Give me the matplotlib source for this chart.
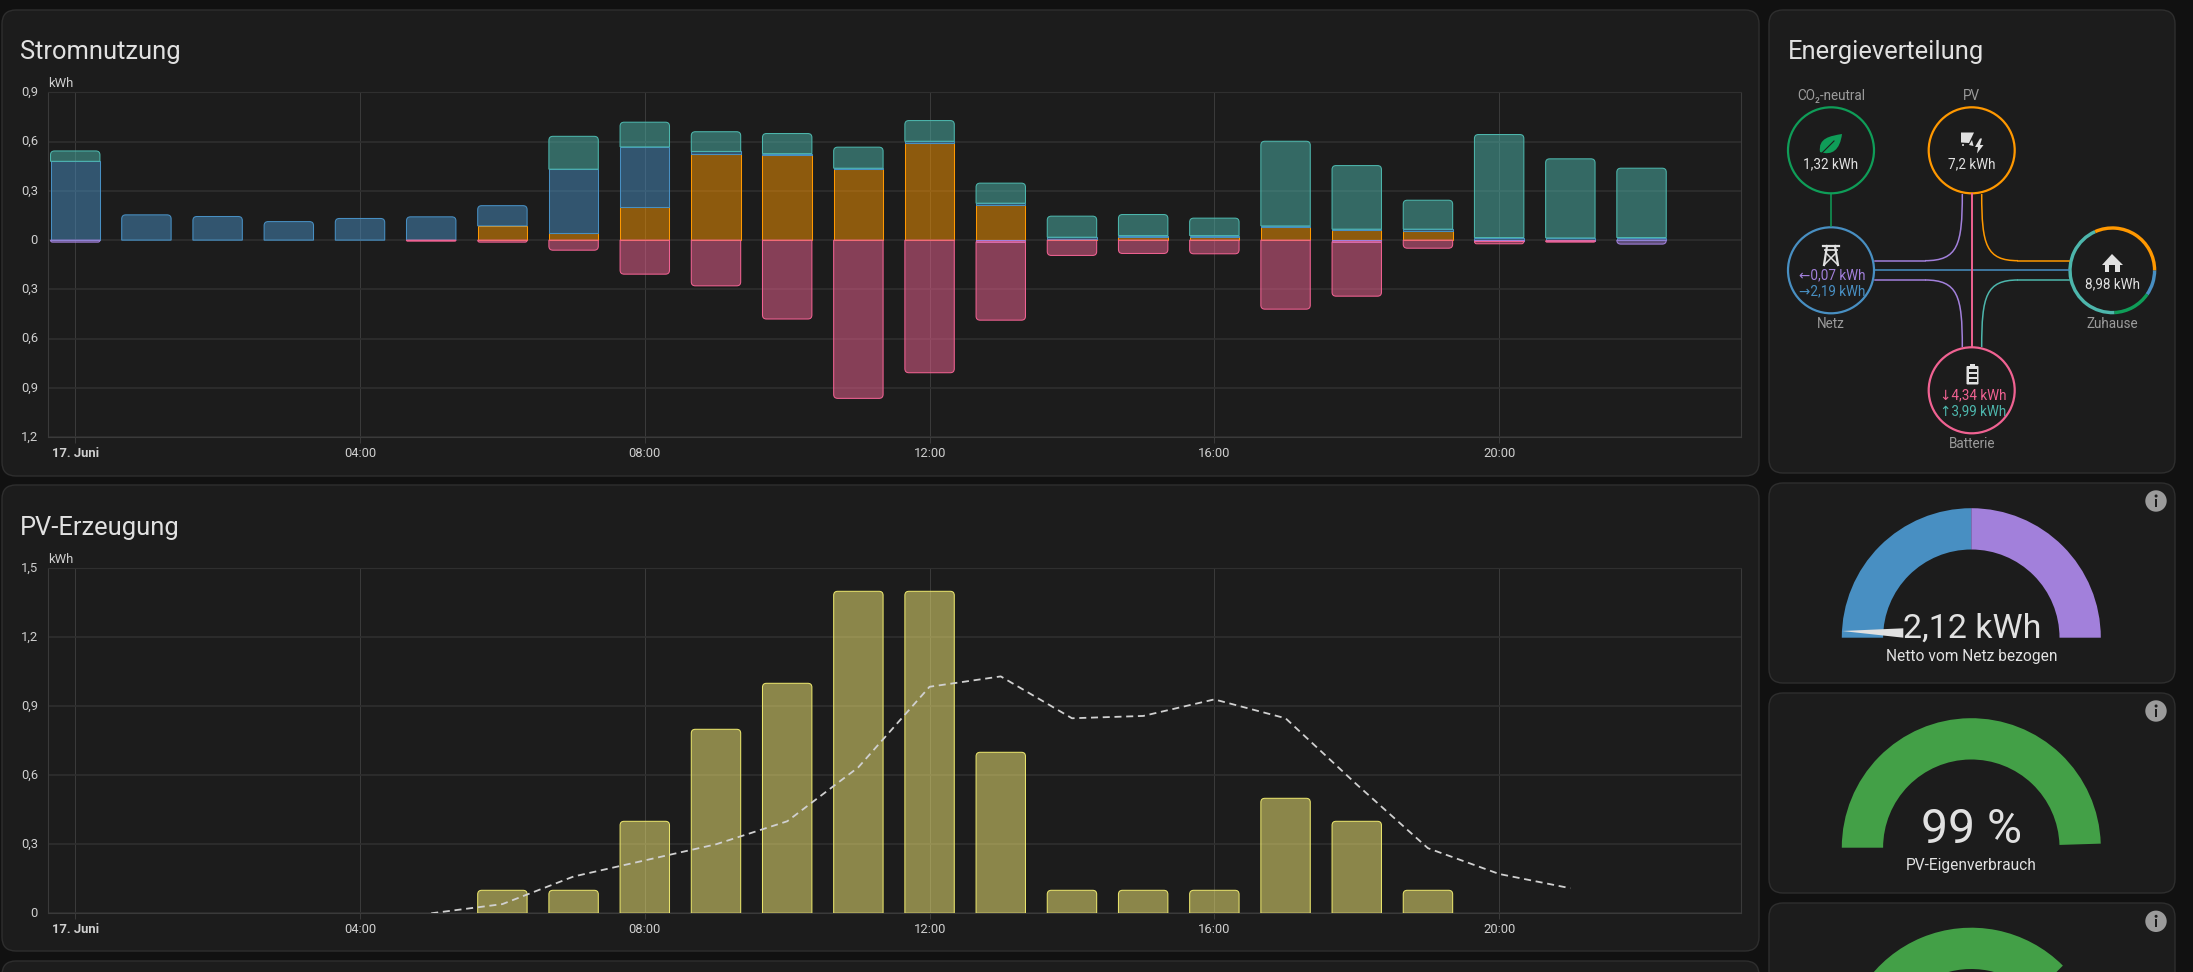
import numpy as np
import matplotlib
matplotlib.use("Agg")
import matplotlib.pyplot as plt
from matplotlib.colors import to_rgba
from matplotlib.patches import Circle, FancyBboxPatch, PathPatch, Polygon, Rectangle, Wedge
from matplotlib.path import Path
from matplotlib.transforms import ScaledTranslation

plt.rcParams['font.family'] = ['Roboto', 'DejaVu Sans']

# data
hours = list(range(23))
solar = [0, 0, 0, 0, 0, 0, 0.087, 0.043, 0.199, 0.523, 0.519, 0.434, 0.594, 0.215, 0.005, 0.018, 0.018, 0.079, 0.059, 0.057, 0, 0, 0]
grid_in = [0.48, 0.154, 0.144, 0.113, 0.132, 0.142, 0.123, 0.389, 0.369, 0.017, 0.008, 0.004, 0.008, 0.01, 0.013, 0.01, 0.01, 0.008, 0.008, 0.01, 0.016, 0.014, 0.016]
battery_out = [0.063, 0, 0, 0, 0, 0, 0, 0.2, 0.15, 0.12, 0.122, 0.128, 0.126, 0.122, 0.128, 0.128, 0.106, 0.515, 0.387, 0.176, 0.627, 0.481, 0.422]
grid_out = [0.012, 0, 0, 0, 0, 0, 0, 0, 0, 0, 0, 0, 0, 0.01, 0, 0, 0, 0, 0.01, 0, 0.008, 0.004, 0.024]
battery_in = [0, 0, 0, 0, 0, 0.006, 0.012, 0.061, 0.207, 0.278, 0.48, 0.963, 0.807, 0.477, 0.093, 0.081, 0.083, 0.42, 0.331, 0.049, 0.014, 0.008, 0]
usage_ticks = [0.9, 0.6, 0.3, 0, -0.3, -0.6, -0.9, -1.2]
usage_labels = ['0,9', '0,6', '0,3', '0', '0,3', '0,6', '0,9', '1,2']

pv_hours = [6, 7, 8, 9, 10, 11, 12, 13, 14, 15, 16, 17, 18, 19]
pv_values = [0.1, 0.1, 0.4, 0.8, 1.0, 1.4, 1.4, 0.7, 0.1, 0.1, 0.1, 0.5, 0.4, 0.1]
forecast_hours = [5, 6, 7, 8, 9, 10, 11, 12, 13, 14, 15, 16, 17, 18, 19, 20, 21]
forecast_values = [0.0, 0.04, 0.16, 0.23, 0.30, 0.40, 0.635, 0.985, 1.03, 0.848, 0.858, 0.93, 0.848, 0.56, 0.283, 0.171, 0.109]
pv_ticks = [0, 0.3, 0.6, 0.9, 1.2, 1.5]
pv_labels = ['0', '0,3', '0,6', '0,9', '1,2', '1,5']

time_ticks = [0, 4, 8, 12, 16, 20]
time_labels = ['17. Juni', '04:00', '08:00', '12:00', '16:00', '20:00']

home_values = [0.87, 1.32, 3.99, 2.86]  # grid, low carbon, battery, solar
self_use_pct = 99
third_gauge_pct = 75

BLUE = '#488fc2'
TEAL = '#4db6ac'
ORANGE = '#ff9800'
PINK = '#f06292'
PURPLE = '#a280db'
GREEN = '#0f9d58'
YELLOW = '#e9e46c'
YELLOW_FILL = '#fbf078'
GAUGE_GREEN = '#43a047'
CARD = '#1c1c1c'
TXT = '#e1e1e1'
GREY = '#9b9b9b'

W, H = 2193, 972
fig = plt.figure(figsize=(W / 100, H / 100), dpi=100, facecolor='#111111')
bg = fig.add_axes([0, 0, 1, 1])
bg.set_xlim(0, W)
bg.set_ylim(H, 0)
bg.axis('off')


def px(v):
    return v * 0.72


def card(x0, y0, x1, y1):
    bg.add_patch(FancyBboxPatch((x0, y0), x1 - x0, y1 - y0, boxstyle='round,pad=0,rounding_size=14',
                                fc=CARD, ec='#2e2e2e', lw=1))


def label(x, y, s, size, color=TXT, ha='center', **kw):
    bg.text(x, y, s, fontsize=px(size), color=color, ha=ha, va='center', **kw)


card(2, 10, 1759, 476)
card(2, 485, 1759, 951)
card(2, 961, 1759, 1100)
card(1769, 10, 2175, 473)
card(1769, 483, 2175, 683)
card(1769, 693, 2175, 893)
card(1769, 903, 2175, 1100)

label(20, 52, 'Stromnutzung', 25.5, ha='left')
label(20, 528, 'PV-Erzeugung', 25.5, ha='left')
label(1788, 52, 'Energieverteilung', 25.5, ha='left')


def make_axes(left, top, right, bottom, ymin, ymax, ticks, labels):
    ax = fig.add_axes([left / W, 1 - bottom / H, (right - left) / W, (bottom - top) / H])
    ax.patch.set_alpha(0)
    ax.set_xlim(-0.388, 23.39)
    ax.set_ylim(ymin, ymax)
    ax.set_yticks(ticks, labels)
    ax.set_xticks(time_ticks, time_labels)
    ax.get_xticklabels()[0].set_fontweight('bold')
    ax.tick_params(axis='y', length=0, pad=7, labelsize=px(13), labelcolor='#cfcfcf')
    ax.tick_params(axis='x', length=4, width=0.7, color='#3a3a3a', pad=3, labelsize=px(13), labelcolor='#cfcfcf')
    up = ScaledTranslation(0, 1.5 / 100, fig.dpi_scale_trans)
    for t in ax.get_yticklabels():
        t.set_transform(t.get_transform() + up)
    ax.grid(axis='y', color='#2f2f2f', lw=1.2)
    ax.grid(axis='x', color='#3a3a3a', lw=0.75)
    ax.set_axisbelow(True)
    for s in ax.spines.values():
        s.set_color('#3a3a3a')
        s.set_linewidth(0.8)
    ax.spines['top'].set_color('#2f2f2f')
    ax.text(0.0005, 1.008, 'kWh', transform=ax.transAxes, fontsize=px(13), color='#cfcfcf', va='bottom', ha='left')
    return ax


def bar(ax, x, y0, y1, color, round_end=False, width=0.694, fill=None):
    # y0 is the end at zero side, y1 the far end, corners are 4 px round at y1
    if y0 == y1:
        return
    l, r = x - width / 2, x + width / 2
    pos = ax.get_position()
    sx = (ax.get_xlim()[1] - ax.get_xlim()[0]) / (pos.width * W)
    sy = abs(ax.get_ylim()[1] - ax.get_ylim()[0]) / (pos.height * H)
    sign = 1 if y1 > y0 else -1
    ry = min(4 * sy, abs(y1 - y0))
    rx = sx * ry / sy
    if round_end:
        verts = [(l, y0), (l, y1 - sign * ry), (l, y1), (l + rx, y1), (r - rx, y1), (r, y1), (r, y1 - sign * ry),
                 (r, y0), (l, y0)]
        codes = [Path.MOVETO, Path.LINETO, Path.CURVE3, Path.CURVE3, Path.LINETO, Path.CURVE3, Path.CURVE3,
                 Path.LINETO, Path.CLOSEPOLY]
    else:
        verts = [(l, y0), (l, y1), (r, y1), (r, y0), (l, y0)]
        codes = [Path.MOVETO, Path.LINETO, Path.LINETO, Path.LINETO, Path.CLOSEPOLY]
    ax.add_patch(PathPatch(Path(verts, codes), fc=to_rgba(fill or color, 0.5), ec=color, lw=0.75, zorder=3))


# Stromnutzung
ax1 = make_axes(47.6, 92.3, 1740.5, 437.3, -1.2, 0.9, usage_ticks, usage_labels)
for i, h in enumerate(hours):
    base = 0
    parts = [(solar[i], ORANGE), (grid_in[i], BLUE), (battery_out[i], TEAL)]
    parts = [p for p in parts if p[0] > 0]
    for j, (v, c) in enumerate(parts):
        bar(ax1, h, base, base + v, c, round_end=j == len(parts) - 1)
        base += v
    base = 0
    parts = [(grid_out[i], PURPLE), (battery_in[i], PINK)]
    parts = [p for p in parts if p[0] > 0]
    for j, (v, c) in enumerate(parts):
        bar(ax1, h, base, base - v, c, round_end=j == len(parts) - 1)
        base -= v

# PV-Erzeugung
ax2 = make_axes(47.6, 568.3, 1740.5, 913.3, 0, 1.5, pv_ticks, pv_labels)
for h, v in zip(pv_hours, pv_values):
    bar(ax2, h, 0, v, YELLOW, round_end=True, fill=YELLOW_FILL)
ax2.plot(forecast_hours, forecast_values, color='#d0d0d0', lw=1.3, ls=(0, (3.9, 2.6)), zorder=4)

# Energieverteilung
CO2 = (1831, 150.3)
PV = (1971.7, 150.3)
NET = (1831, 270.3)
HOME = (2112.3, 270.3)
BAT = (1971.7, 390.3)

for center, color in [(CO2, GREEN), (PV, ORANGE), (NET, BLUE), (BAT, PINK)]:
    bg.add_patch(Circle(center, 43, fill=False, ec=color, lw=1.6))

ring_colors = [BLUE, GREEN, TEAL, ORANGE]
theta = 0
for v, c in zip(home_values, ring_colors):
    span = 360 * v / sum(home_values)
    bg.add_patch(Wedge(HOME, 44, theta, theta + span, width=3.4, fc=c, ec='none'))
    theta += span


def curve(p0, p1, p2, p3, color):
    path = Path([p0, p1, p2, p3], [Path.MOVETO, Path.CURVE4, Path.CURVE4, Path.CURVE4])
    bg.add_patch(PathPatch(path, fill=False, ec=color, lw=1.1))


bg.plot([1831, 1831], [194, 226], color=GREEN, lw=1.1)
bg.plot([1875, 2069], [270.3, 270.3], color=BLUE, lw=1.1)
bg.plot([1971.7, 1971.7], [194, 347], color=PINK, lw=1.4)
bg.plot([1875, 1925], [260.7, 260.7], color=PURPLE, lw=1.1)
curve((1962.3, 194), (1962.3, 245), (1958, 260.7), (1925, 260.7), PURPLE)
bg.plot([2069, 2018], [260.7, 260.7], color=ORANGE, lw=1.1)
curve((1981.7, 194), (1981.7, 245), (1986, 260.7), (2018, 260.7), ORANGE)
bg.plot([1875, 1925], [280, 280], color=PURPLE, lw=1.1)
curve((1962.3, 347), (1962.3, 296), (1958, 280), (1925, 280), PURPLE)
bg.plot([2069, 2018], [280, 280], color=TEAL, lw=1.1)
curve((1981.7, 347), (1981.7, 296), (1986, 280), (2018, 280), TEAL)

label(1831, 95.7, 'CO₂-neutral', 13.5, GREY)
label(1971.7, 95.7, 'PV', 13.5, GREY)
label(1831, 324.3, 'Netz', 13.5, GREY)
label(2112.3, 324.3, 'Zuhause', 13.5, GREY)
label(1971.7, 444.3, 'Batterie', 13.5, GREY)
label(1831, 164.3, '1,32 kWh', 13.5)
label(1971.7, 164.3, '7,2 kWh', 13.5)
label(2112.3, 284.3, '8,98 kWh', 13.5)
label(1832, 275.3, '←0,07 kWh', 13.5, PURPLE)
label(1832, 291.3, '→2,19 kWh', 13.5, BLUE)
label(1973, 395.3, '↓4,34 kWh', 13.5, PINK)
label(1973, 411.3, '↑3,99 kWh', 13.5, TEAL)

ICON = '#e1e1e1'
# leaf
leaf = Path([(1820, 152), (1818, 138), (1830, 136), (1842, 134), (1840, 150), (1832, 156), (1820, 152)],
            [Path.MOVETO, Path.CURVE4, Path.CURVE4, Path.CURVE4, Path.CURVE4, Path.CURVE4, Path.CURVE4])
bg.add_patch(PathPatch(leaf, fc=GREEN, ec='none'))
bg.plot([1821, 1834], [154, 141], color=CARD, lw=0.8)
# solar panel and bolt
bg.add_patch(Polygon([(1961, 132.5), (1974, 132.5), (1969, 143), (1961, 142.5)], fc=ICON, ec='none'))
bg.add_patch(Polygon([(1969, 145), (1972, 140), (1973.5, 146)], fc=ICON, ec='none'))
bg.add_patch(Circle((1963, 145), 1, fc=ICON, ec='none'))
bg.add_patch(Polygon([(1980, 138.5), (1975, 147), (1978, 147), (1977, 153.5), (1983.5, 145), (1980, 145), (1982, 138.5)],
                     fc=ICON, ec='none'))
# pylon
bg.plot([1823, 1839], [246, 246], color=ICON, lw=1.6)
bg.plot([1825, 1837], [250.5, 250.5], color=ICON, lw=1.3)
bg.plot([1827, 1824], [246, 265], color=ICON, lw=1.6)
bg.plot([1835, 1838], [246, 265], color=ICON, lw=1.6)
bg.plot([1826, 1837], [253, 264], color=ICON, lw=1.1)
bg.plot([1836, 1825], [253, 264], color=ICON, lw=1.1)
# house
bg.add_patch(Polygon([(2112, 254), (2123, 265), (2120, 265), (2120, 272), (2115, 272), (2115, 265), (2109, 265),
                      (2109, 272), (2105, 272), (2105, 265), (2102, 265)], fc=ICON, ec='none'))
# battery
bg.add_patch(FancyBboxPatch((1966.5, 366), 12, 18.5, boxstyle='round,pad=0,rounding_size=1', fc=ICON, ec='none'))
bg.add_patch(Rectangle((1970, 363.5), 5, 3, fc=ICON, ec='none'))
for y in (368.5, 373.5, 378.5):
    bg.add_patch(Rectangle((1968.5, y), 8, 3.6, fc=CARD, ec='none'))

# gauges
GX = 1971.3
R = 129.5
THICK = 41.3


def info(y):
    bg.add_patch(Circle((2156, y), 10.7, fc=GREY, ec='none'))
    bg.add_patch(Rectangle((2154.9, y - 2), 2.5, 7.5, fc=CARD, ec='none'))
    bg.add_patch(Circle((2156.1, y - 5), 1.5, fc=CARD, ec='none'))


cy = 637.7
bg.add_patch(Wedge((GX, cy), R, 180, 270, width=THICK, fc=BLUE, ec='none'))
bg.add_patch(Wedge((GX, cy), R, 270, 360, width=THICK, fc=PURPLE, ec='none'))
bg.add_patch(Polygon([(1842, 631), (1903.3, 628.3), (1903.3, 637.7)], fc='#e1e1e1', ec='none'))
label(GX + 0.5, cy - 9, '2,12 kWh', 34)
label(GX, 656.7, 'Netto vom Netz bezogen', 15.5)
info(501)

cy = 847.7
bg.add_patch(Wedge((GX, cy), R, 180, 180 + 180 * self_use_pct / 100, width=THICK, fc=GAUGE_GREEN, ec='none'))
label(GX + 0.5, cy - 18, '99 %', 48)
label(GX, 865.7, 'PV-Eigenverbrauch', 15.5)
info(711)

cy = 1057.2
bg.add_patch(Wedge((GX, cy), R, 180, 180 + 180 * third_gauge_pct / 100, width=THICK, fc=GAUGE_GREEN, ec='none'))
info(921.3)

fig.savefig('out.png', dpi=100, facecolor=fig.get_facecolor())
